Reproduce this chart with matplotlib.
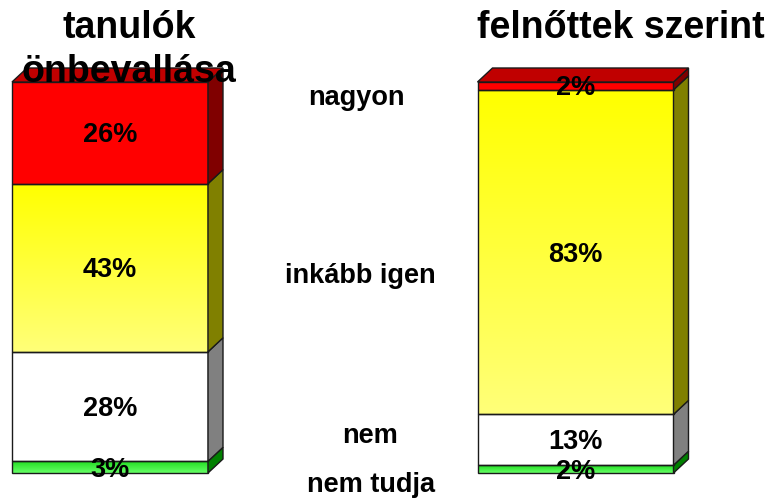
import matplotlib
matplotlib.use('Agg')
import matplotlib.pyplot as plt
from matplotlib.patches import Polygon, Rectangle
from matplotlib.colors import LinearSegmentedColormap
import numpy as np

# ---- data ----
groups = ['tanulók\nönbevallása', 'felnőttek szerint']
categories = ['nem tudja', 'nem', 'inkább igen', 'nagyon']
values_students = [3, 28, 43, 26]
values_adults = [2, 13, 83, 2]
series = [values_students, values_adults]

# ---- styles ----
front_top = ['#22DD22', '#FFFFFF', '#FFFF00', '#FF0000']
front_bot = ['#66FF66', '#FFFFFF', '#FFFF78', '#FF0000']
side_col = ['#008000', '#808080', '#808000', '#800000']
top_col = '#C00000'
edge = '#1a1a1a'
FONT = 'Liberation Sans'

W, H = 771, 501
fig = plt.figure(figsize=(W / 100, H / 100), dpi=100)
y0_px, y1_px = 473, 82
ax = fig.add_axes([0, (H - y0_px) / H, 1, (y0_px - y1_px) / H])
ax.set_axis_off()

bar_centers = [110, 575.5]
bar_w = 196
dx = 15
dy = 14 / (y0_px - y1_px) * 100

for i, vals in enumerate(series):
    xc = bar_centers[i]
    x0, x1 = xc - bar_w / 2, xc + bar_w / 2
    bottom = 0
    for j, v in enumerate(vals):
        b, t = bottom, bottom + v
        cmap = LinearSegmentedColormap.from_list('g', [front_bot[j], front_top[j]])
        grad = np.linspace(0, 1, 64).reshape(-1, 1)
        ax.imshow(grad, extent=[x0, x1, b, t], origin='lower', cmap=cmap,
                  aspect='auto', interpolation='bilinear', zorder=2, clip_on=False)
        ax.add_patch(Rectangle((x0, b), x1 - x0, v, fill=False, edgecolor=edge,
                               lw=1.0, zorder=3, clip_on=False))
        ax.add_patch(Polygon([(x1, b), (x1 + dx, b + dy), (x1 + dx, t + dy), (x1, t)],
                             closed=True, facecolor=side_col[j], edgecolor=edge,
                             lw=1.0, zorder=3, clip_on=False))
        ax.annotate(f'{v}%', (xc, (b + t) / 2), xytext=(0, -6.8),
                    textcoords='offset points', ha='center', va='baseline',
                    fontsize=19.5, fontweight='bold', family=FONT, zorder=6,
                    annotation_clip=False)
        bottom = t
    ax.add_patch(Polygon([(x0, bottom), (x0 + dx, bottom + dy), (x1 + dx, bottom + dy),
                          (x1, bottom)], closed=True, facecolor=top_col,
                         edgecolor=edge, lw=1.0, zorder=3, clip_on=False))

ax.set_xlim(0, W)
ax.set_ylim(0, 100)


def ftext(x, y, s, **kw):
    fig.text(x / W, 1 - y / H, s, ha='center', va='baseline', fontweight='bold',
             family=FONT, zorder=10, **kw)


# group titles
title_pos = [(129, 38), (621, 38)]
for (tx, ty), g in zip(title_pos, groups):
    for k, line in enumerate(g.split('\n')):
        ftext(tx, ty + 44 * k, line, fontsize=27)

# category labels
cat_pos = {'nagyon': (356, 105), 'inkább igen': (360.5, 283),
           'nem': (370, 443), 'nem tudja': (371, 492)}
for c in categories:
    x, y = cat_pos[c]
    ftext(x, y, c, fontsize=19.5)

fig.savefig('out.png', dpi=100)
